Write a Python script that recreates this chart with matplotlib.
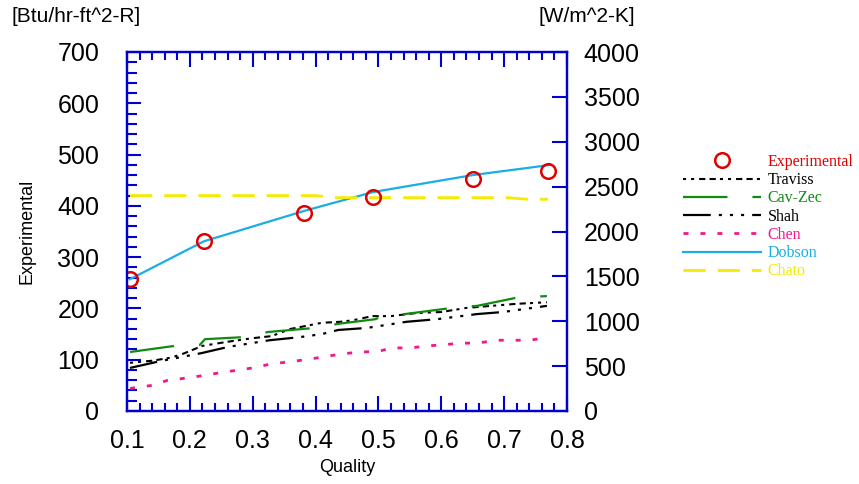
import numpy as np
import matplotlib
matplotlib.use('Agg')
import matplotlib.pyplot as plt
from matplotlib.ticker import MultipleLocator

plt.rcParams['font.family'] = ['Liberation Sans', 'DejaVu Sans']
plt.rcParams['lines.scale_dashes'] = False

# measured heat transfer coefficient, Btu/hr-ft^2-R
exp_x = [0.1048, 0.2225, 0.3816, 0.4918, 0.650, 0.7693]
exp_y = [257, 332, 387, 418, 452, 468]

# correlations
traviss_x = [0.1048, 0.14, 0.17, 0.19, 0.22, 0.26, 0.30, 0.33, 0.36, 0.41, 0.44, 0.46,
             0.49, 0.52, 0.56, 0.60, 0.64, 0.68, 0.72, 0.768]
traviss_y = [94, 98, 104, 112, 127, 135, 142, 146, 160, 172, 174, 177,
             185, 185, 191, 193, 201, 205, 209, 212]

cavzec_x = [0.1048, 0.176, 0.216, 0.224, 0.2845, 0.324, 0.399, 0.436, 0.495, 0.507,
            0.542, 0.617, 0.657, 0.724, 0.768]
cavzec_y = [115, 127, 129, 140, 144, 154, 162, 170, 179, 185,
            189, 201, 205, 222, 224]

shah_x = [0.1048, 0.152, 0.219, 0.261, 0.327, 0.375, 0.41, 0.436, 0.482, 0.545,
          0.593, 0.657, 0.698, 0.768]
shah_y = [84, 97, 113, 125, 138, 144, 150, 158, 162, 174,
          179, 189, 193, 205]

chen_x = [0.1048, 0.14, 0.165, 0.2, 0.25, 0.3, 0.33, 0.36, 0.4, 0.44, 0.47, 0.5,
          0.52, 0.55, 0.58, 0.63, 0.66, 0.69, 0.74, 0.768]
chen_y = [44, 50, 60, 65, 75, 84, 92, 96, 103, 111, 115, 116,
          123, 123, 127, 132, 133, 138, 138, 143]

dobson_x = [0.1048, 0.2225, 0.3816, 0.4918, 0.650, 0.775]
dobson_y = [257, 331, 390, 427, 460, 480]

chato_x = [0.1048, 0.40, 0.43, 0.705, 0.735, 0.77]
chato_y = [420, 420, 416, 416, 413, 413]

blue = '#0000d0'
red = '#e00000'
green = '#108a10'
pink = '#f0198a'
cyan = '#1aaee6'
yellow = '#f5eb00'

fig = plt.figure(figsize=(8.59, 4.84), dpi=100)
ax = fig.add_axes([127/859, 1-411/484, 440/859, 359/484])

ax.plot(exp_x, exp_y, 'o', ms=10.5, mfc='none', mec=red, mew=1.8, zorder=5, label='Experimental')
ax.plot(traviss_x, traviss_y, color='black', lw=1.5,
        dashes=(2.2, 3.6, 2.2, 3.6, 4.5, 3, 4.5, 3), label='Traviss')
ax.plot(cavzec_x, cavzec_y, color=green, lw=1.6, dashes=(32, 18), label='Cav-Zec')
ax.plot(shah_x, shah_y, color='black', lw=1.6,
        dashes=(20, 5.8, 2.2, 5.8, 2.2, 5.8, 2.2, 5.8), label='Shah')
ax.plot(chen_x, chen_y, color=pink, lw=2, dashes=(3.6, 8.6), label='Chen')
ax.plot(dobson_x, dobson_y, color=cyan, lw=1.6, label='Dobson')
ax.plot(chato_x, chato_y, color=yellow, lw=2, dashes=(16, 8.6), label='Chato')

ax.set_xlim(0.1, 0.8)
ax.set_ylim(0, 700)
ax.xaxis.set_major_locator(MultipleLocator(0.1))
ax.xaxis.set_minor_locator(MultipleLocator(0.02))
ax.yaxis.set_major_locator(MultipleLocator(100))
ax.yaxis.set_minor_locator(MultipleLocator(20))

for s in ax.spines.values():
    s.set_color(blue)
    s.set_linewidth(1.6)

ax.tick_params(axis='x', which='both', direction='in', top=True, color=blue, width=1.5,
               labelsize=18, pad=13)
ax.tick_params(axis='x', which='major', length=11)
ax.tick_params(axis='x', which='minor', length=6)
ax.tick_params(axis='y', which='both', direction='in', right=False, color=blue, width=1.5,
               labelsize=18, pad=20)
ax.tick_params(axis='y', which='major', length=10)
ax.tick_params(axis='y', which='minor', length=7)

ax.set_xlabel('Quality', fontsize=13)
ax.set_ylabel('Experimental', fontsize=13)
ax.xaxis.label.set_va('center')
ax.yaxis.label.set_va('center')
ax.xaxis.set_label_coords(0.5, (411-467)/359)
ax.yaxis.set_label_coords((27-127)/440, 0.5)

# W/m^2-K scale on the right
ax2 = ax.twinx()
ax2.set_ylim(0, 4000)
ax2.yaxis.set_major_locator(MultipleLocator(500))
for s in ax2.spines.values():
    s.set_color(blue)
    s.set_linewidth(1.6)
ax2.tick_params(axis='y', direction='in', color=blue, width=1.5, length=11,
                labelsize=18, pad=12)

fig.text(76/859, 1-17/484, '[Btu/hr-ft^2-R]', ha='center', va='center', fontsize=15)
fig.text(587/859, 1-17/484, '[W/m^2-K]', ha='center', va='center', fontsize=15)

handles, labels = ax.get_legend_handles_labels()
leg = fig.legend(handles, labels, loc='upper left', bbox_to_anchor=(675/859, 1-146/484),
                 frameon=False, borderpad=0, handlelength=4.9, handletextpad=0.4,
                 labelspacing=0.14, numpoints=1,
                 prop={'family': 'Liberation Serif', 'size': 11.5},
                 labelcolor=[red, 'black', green, 'black', pink, cyan, yellow])

fig.savefig('out.png', dpi=100)
